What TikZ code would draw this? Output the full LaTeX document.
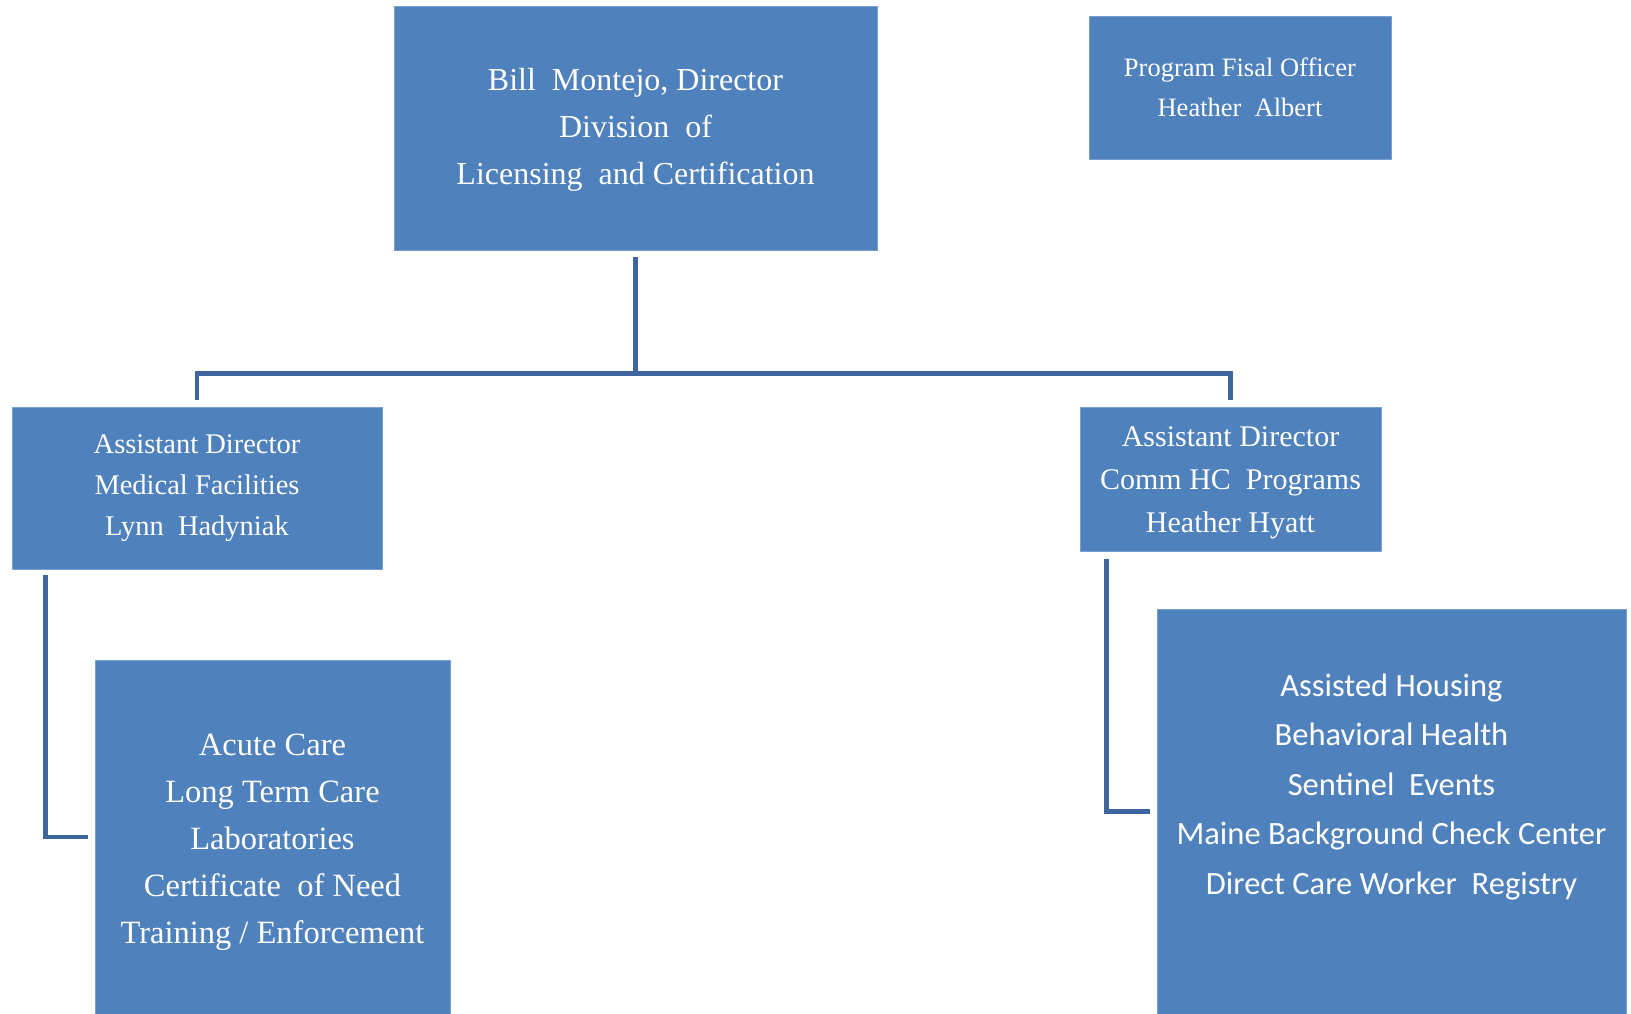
\documentclass[tikz,border=0pt]{standalone}
\usepackage{fontspec}
\setmainfont{Liberation Serif}
\newfontfamily\calibri{Carlito}
\definecolor{boxblue}{RGB}{79,129,189}
\definecolor{edgeblue}{RGB}{120,160,210}
\definecolor{lineblue}{RGB}{62,102,158}
\tikzset{
  orgbox/.style={rectangle, fill=boxblue, draw=edgeblue, line width=0.8pt, text=white, align=center, inner sep=0pt},
  boxtext/.style={text=white, align=center, inner sep=0pt},
  conn/.style={draw=lineblue, line width=4.6pt, line join=miter, line cap=butt},
}
\begin{document}
\begin{tikzpicture}[x=1pt,y=1pt]
\useasboundingbox (0,0) rectangle (1631,1014);
% boxes
\node[orgbox, minimum width=483pt, minimum height=244pt] (top) at (635.5,886) {};
\node[boxtext, font=\fontsize{32}{47}\selectfont] (toptext) at (635.5,884)
  {Bill\ \ Montejo, Director\\Division\ \ of\\Licensing\ \ and Certification};
\node[orgbox, minimum width=302pt, minimum height=143pt, font=\fontsize{26.5}{39.5}\selectfont] (fis) at (1240,926.5)
  {Program Fisal Officer\\Heather\ \ Albert};
\node[orgbox, minimum width=370pt, minimum height=162pt, font=\fontsize{28.5}{41}\selectfont] (lad) at (197,526)
  {Assistant Director\\Medical Facilities\\Lynn\ \ Hadyniak};
\node[orgbox, minimum width=301pt, minimum height=144pt] (rad) at (1230.5,535) {};
\node[boxtext, font=\fontsize{30}{43}\selectfont] (radtext) at (1230.5,531)
  {Assistant Director\\Comm HC\ \ Programs\\Heather Hyatt};
\node[orgbox, minimum width=355pt, minimum height=354pt] (lc) at (272.5,177) {};
\node[boxtext, font=\fontsize{32.5}{47}\selectfont] (lctext) at (272.5,172)
  {Acute Care\\Long Term Care\\Laboratories\\Certificate\ \ of Need\\Training\ /\ Enforcement};
\node[orgbox, minimum width=469pt, minimum height=405pt] (rc) at (1391.5,202.5) {};
\node[boxtext, font=\calibri\fontsize{32.5}{49.5}\selectfont] (rctext) at (1391.5,227)
  {Assisted Housing\\Behavioral Health\\Sentinel\ \ Events\\Maine Background Check Center\\Direct Care Worker\ \ Registry};
% connectors
\draw[conn] ([yshift=-7pt]top.south) -- ++(0,-116) coordinate (bus);
\draw[conn] ([yshift=7pt]lad.north) |- (bus) -| ([yshift=7pt]rad.north);
\draw[conn] ([xshift=34pt,yshift=-6pt]lad.south west) |- ([xshift=-7pt]lc.west);
\draw[conn] ([xshift=27pt,yshift=-8pt]rad.south west) |- ([xshift=-7pt]rc.west);
\end{tikzpicture}
\end{document}
